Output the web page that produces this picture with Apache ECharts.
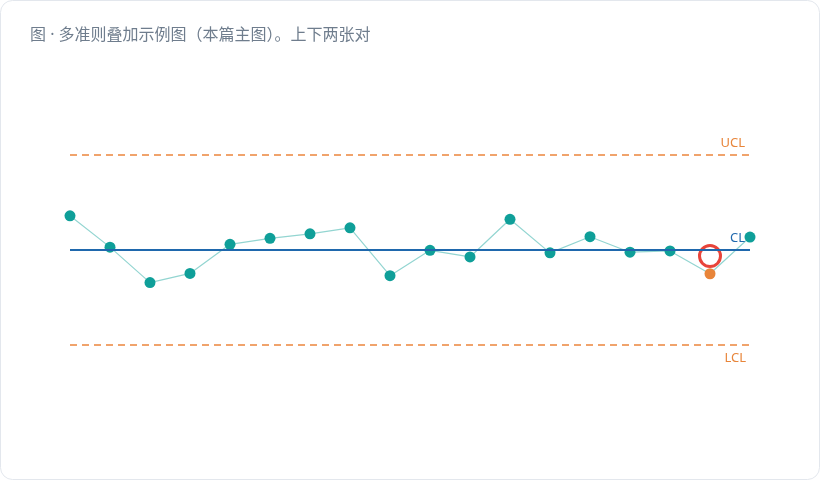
<!DOCTYPE html>
<html lang="zh">
<head>
<meta charset="utf-8">
<title>多准则叠加示例图</title>
<script src="https://cdn.jsdelivr.net/npm/echarts@6.0.0/dist/echarts.min.js"></script>
<style>
  html, body { margin: 0; padding: 0; background: #ffffff; }
  #main { width: 820px; height: 480px; }
</style>
</head>
<body>
<div id="main"></div>
<script type="text/javascript">
// samples (in sigma units around the center line)
const samples = ['1','2','3','4','5','6','7','8','9','10','11','12','13','14','15','16','17','18'];
const values = [1.08, 0.09, -1.03, -0.74, 0.18, 0.37, 0.51, 0.70, -0.81, -0.01, -0.22, 0.97, -0.09, 0.42, -0.07, -0.03, -0.75, 0.41];
const signalIndex = [16];          // points flagged by a rule
const ringMark = [16, -0.19];      // red circle annotation [sample index, value]
const limits = { UCL: 3, CL: 0, LCL: -3 };

const teal = '#0f9f99';
const orange = '#e8853a';
const blue = '#1f68ad';

let myChart = echarts.init(document.getElementById('main'));

let pointData = values.map((v, i) => {
    if (signalIndex.includes(i)) {
        return { value: v, itemStyle: { color: orange } };
    }
    return v;
});

let options = {
    animation: false,
    textStyle: { fontFamily: 'Noto Sans, Noto Sans CJK SC, sans-serif' },
    title: {
        text: '图 · 多准则叠加示例图（本篇主图）。上下两张对',
        left: 25, top: 22,
        textStyle: { fontSize: 16, fontWeight: 'normal', color: '#6f7d8d',
                     fontFamily: 'Noto Sans, Noto Sans CJK SC, sans-serif' }
    },
    graphic: [{
        type: 'rect', z: -10, silent: true,
        shape: { x: 0.5, y: 0.5, width: 819, height: 479, r: 12 },
        style: { fill: '#ffffff', stroke: '#e3e7ed', lineWidth: 1 }
    }],
    grid: { left: 70, right: 70, top: 155, height: 190 },
    xAxis: {
        type: 'category', data: samples, boundaryGap: false, show: false
    },
    yAxis: {
        type: 'value', min: -3, max: 3, show: false
    },
    series: [{
        type: 'line',
        data: pointData,
        symbol: 'circle',
        symbolSize: 11,
        itemStyle: { color: teal },
        lineStyle: { color: '#93d5d1', width: 1.2 },
        z: 3,
        markLine: {
            silent: true,
            symbol: 'none',
            data: [
                { yAxis: limits.UCL, lineStyle: { color: '#f0a36c', width: 2, type: [7, 5] },
                  label: { formatter: 'UCL', position: 'insideEndTop', color: orange, fontSize: 13, distance: 5 } },
                { yAxis: limits.CL, lineStyle: { color: blue, width: 2, type: 'solid' },
                  label: { formatter: 'CL', position: 'insideEndTop', color: blue, fontSize: 13, distance: 5 } },
                { yAxis: limits.LCL, lineStyle: { color: '#f0a36c', width: 2, type: [7, 5] },
                  label: { formatter: 'LCL', position: 'insideEndBottom', color: orange, fontSize: 13, distance: [4, 7] } }
            ]
        }
    }, {
        type: 'scatter',
        data: [ringMark],
        symbol: 'circle',
        symbolSize: 21,
        silent: true,
        z: 4,
        itemStyle: { color: 'rgba(0,0,0,0)', borderColor: '#e8443a', borderWidth: 3, opacity: 1 }
    }]
};

myChart.setOption(options);
</script>
</body>
</html>
